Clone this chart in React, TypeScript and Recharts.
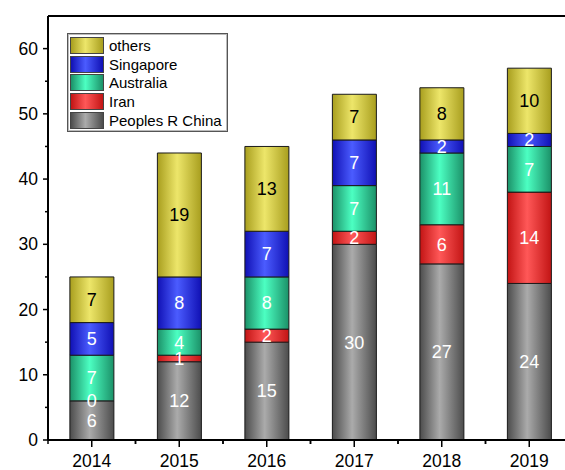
import { BarChart, Bar, XAxis, YAxis, LabelList, ReferenceLine } from "recharts";

const YEARS = ["2014", "2015", "2016", "2017", "2018", "2019"];
const CHINA = [6, 12, 15, 30, 27, 24];
const IRAN = [0, 1, 2, 2, 6, 14];
const AUSTRALIA = [7, 4, 8, 7, 11, 7];
const SINGAPORE = [5, 8, 7, 7, 2, 2];
const OTHERS = [7, 19, 13, 7, 8, 10];
const Y_TICKS = [0, 5, 10, 15, 20, 25, 30, 35, 40, 45, 50, 55, 60];

const data = YEARS.map((year, i) => ({
  year,
  china: CHINA[i],
  iran: IRAN[i],
  australia: AUSTRALIA[i],
  singapore: SINGAPORE[i],
  others: OTHERS[i],
}));

// stack order bottom -> top
const SERIES = [
  { key: "china", name: "Peoples R China", edge: "#4c4c4c", mid: "#ababab", text: "#fff" },
  { key: "iran", name: "Iran", edge: "#c21414", mid: "#ff5858", text: "#fff" },
  { key: "australia", name: "Australia", edge: "#1b9168", mid: "#4cffc2", text: "#fff" },
  { key: "singapore", name: "Singapore", edge: "#1010b4", mid: "#4b5cff", text: "#fff" },
  { key: "others", name: "others", edge: "#a89e1e", mid: "#ede66a", text: "#000" },
];

const FONT = "Arial, 'Liberation Sans', sans-serif";
const PLOT_LEFT = 48;
const PLOT_BOTTOM = 440;
const HALF_BAND = 43.75;

function YTick({ y, payload }: any) {
  const major = payload.value % 10 === 0;
  return (
    <g>
      <line x1={PLOT_LEFT} x2={PLOT_LEFT - (major ? 5 : 3)} y1={y} y2={y} stroke="#000" strokeWidth={1.5} />
      {major && (
        <text x={PLOT_LEFT - 10} y={y + 6} textAnchor="end" fontSize={17.5} fontFamily={FONT} fill="#000">
          {payload.value}
        </text>
      )}
    </g>
  );
}

function XTick({ x, payload }: any) {
  return (
    <g>
      <line x1={x} x2={x} y1={PLOT_BOTTOM} y2={PLOT_BOTTOM + 7} stroke="#000" strokeWidth={1.5} />
      <line x1={x - HALF_BAND} x2={x - HALF_BAND} y1={PLOT_BOTTOM} y2={PLOT_BOTTOM + 4} stroke="#000" strokeWidth={1.5} />
      <line x1={x + HALF_BAND} x2={x + HALF_BAND} y1={PLOT_BOTTOM} y2={PLOT_BOTTOM + 4} stroke="#000" strokeWidth={1.5} />
      <text x={x} y={PLOT_BOTTOM + 27} textAnchor="middle" fontSize={17.5} fontFamily={FONT} fill="#000">
        {payload.value}
      </text>
    </g>
  );
}

// zero-height segments get no rect, so their label is hung on the top of the segment below
function ZeroLabel({ x, y, width, value }: any) {
  if (value !== 0) return null;
  return (
    <text
      x={x + width / 2}
      y={y}
      textAnchor="middle"
      dominantBaseline="central"
      fill="#fff"
      fontSize={18}
      fontFamily={FONT}
    >
      {value}
    </text>
  );
}

function ChartLegend() {
  const items = [...SERIES].reverse();
  return (
    <div
      style={{
        position: "absolute",
        left: 67,
        top: 33,
        border: "1px solid #555",
        boxShadow: "inset 0 0 0 1px #bbb",
        background: "#fff",
        padding: "2px 3px 2px 2px",
        fontFamily: FONT,
        fontSize: 15,
        width: 154,
      }}
    >
      {items.map((s) => (
        <div key={s.key} style={{ display: "flex", alignItems: "center", height: 18.7 }}>
          <span
            style={{
              display: "inline-block",
              width: 34,
              height: 17,
              border: "1px solid #444",
              background: `linear-gradient(to right, ${s.edge}, ${s.mid} 45%, ${s.edge})`,
              marginRight: 5,
              boxSizing: "border-box",
            }}
          />
          <span style={{ color: "#000", whiteSpace: "nowrap" }}>{s.name}</span>
        </div>
      ))}
    </div>
  );
}

export default function App() {
  return (
    <div style={{ position: "fixed", left: 0, top: 0, width: 565, height: 470, overflow: "hidden", background: "#fff" }}>
      <BarChart
        width={600}
        height={470}
        data={data}
        margin={{ top: 16, right: 27, bottom: 0, left: 0 }}
        barCategoryGap="25%"
      >
        <defs>
          {SERIES.map((s) => (
            <linearGradient key={s.key} id={`grad-${s.key}`} x1="0" y1="0" x2="1" y2="0">
              <stop offset="0%" stopColor={s.edge} />
              <stop offset="45%" stopColor={s.mid} />
              <stop offset="100%" stopColor={s.edge} />
            </linearGradient>
          ))}
        </defs>
        <XAxis
          dataKey="year"
          height={30}
          interval={0}
          tickLine={false}
          tick={<XTick />}
          axisLine={{ stroke: "#000", strokeWidth: 2 }}
        />
        <YAxis
          width={48}
          domain={[0, 65]}
          ticks={Y_TICKS}
          interval={0}
          tickLine={false}
          tick={<YTick />}
          axisLine={{ stroke: "#000", strokeWidth: 2 }}
        />
        <ReferenceLine y={65} stroke="#000" strokeWidth={2} ifOverflow="visible" />
        {SERIES.map((s, idx) => (
          <Bar
            key={s.key}
            dataKey={s.key}
            name={s.name}
            stackId="a"
            fill={`url(#grad-${s.key})`}
            stroke="#1a1a1a"
            strokeWidth={1}
            isAnimationActive={false}
          >
            <LabelList
              dataKey={s.key}
              position="center"
              fill={s.text}
              fontSize={18}
              fontFamily={FONT}
            />
            {idx < SERIES.length - 1 && (
              <LabelList dataKey={SERIES[idx + 1].key} content={<ZeroLabel />} />
            )}
          </Bar>
        ))}
      </BarChart>
      <ChartLegend />
    </div>
  );
}
